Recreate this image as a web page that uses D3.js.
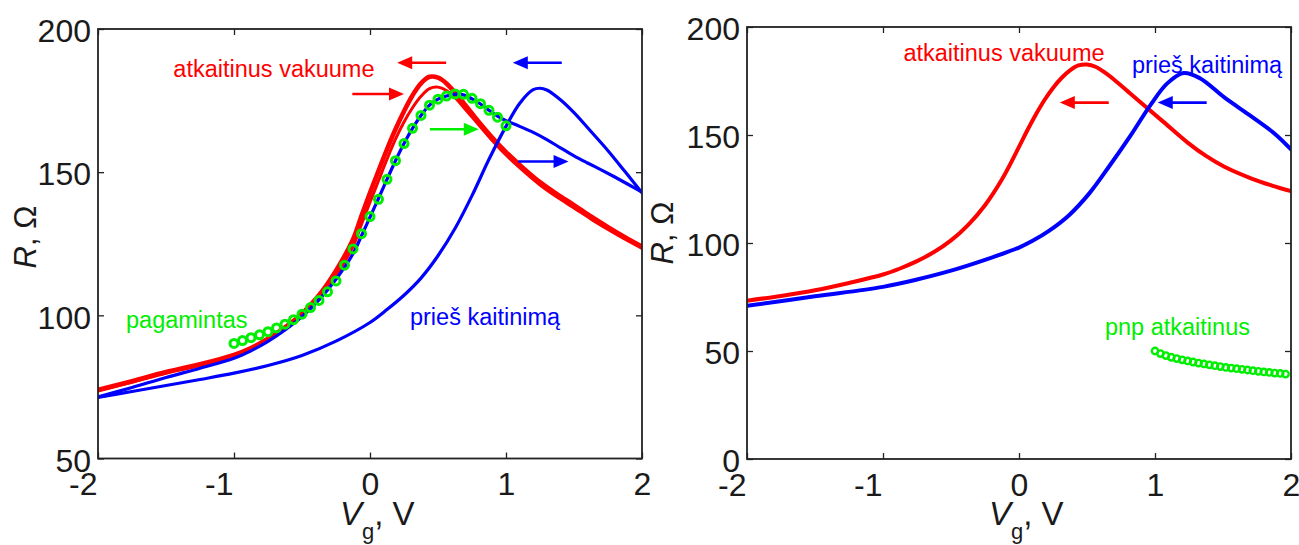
<!DOCTYPE html>
<html><head><meta charset="utf-8">
<script src="https://cdn.jsdelivr.net/npm/d3@7"></script>
<style>
html,body{margin:0;padding:0;background:#fff;}
svg{display:block;font-family:"Liberation Sans",Arial,Helvetica,sans-serif;}
</style></head><body>
<svg id="chart" width="1299" height="545"></svg>
<script>
// ---------------- DATA ----------------
const xTicks = [-2, -1, 0, 1, 2];
const leftYTicks = [50, 100, 150, 200];
const rightYTicks = [0, 50, 100, 150, 200];

// Left panel: annealed in vacuum (two sweeps)
const leftRedUp = [[-2,74],[-1.75,77],[-1.5,80.2],[-1.25,82.9],[-1,86.2],[-0.875,88.6],[-0.75,91.8],[-0.625,95.8],[-0.5,100.6],[-0.375,107],[-0.25,115.6],[-0.125,126.5],[-0.0625,134.8],[0,142.8],[0.0625,150.5],[0.125,158],[0.1875,165],[0.25,171.3],[0.3125,176.8],[0.375,181],[0.4375,183.3],[0.5,183],[0.5625,181],[0.625,177.8],[0.7,173.5],[0.8,167.5],[0.9,162],[1.0,157],[1.125,151.5],[1.25,146.5],[1.375,142.3],[1.5,138.5],[1.625,134.5],[1.75,130.8],[1.875,127.3],[2,124]];
const leftRedDown = [[-2,73.6],[-1.75,76.6],[-1.5,79.8],[-1.25,82.5],[-1,85.8],[-0.875,88.2],[-0.75,91.4],[-0.625,95.3],[-0.5,100],[-0.375,106],[-0.25,114],[-0.125,124],[-0.0625,131.8],[0,139.5],[0.0625,147],[0.125,154.5],[0.1875,161.5],[0.25,167.5],[0.3125,172.5],[0.375,176.5],[0.4375,179.2],[0.5,179.7],[0.5625,178.5],[0.625,176],[0.7,172],[0.8,166.5],[0.9,161],[1.0,156],[1.125,150.5],[1.25,145.5],[1.375,141.3],[1.5,137.5],[1.625,133.6],[1.75,130],[1.875,126.6],[2,123.4]];
// Left panel: before heating (two sweeps)
const leftBlueA = [[-2,71.3],[-1.75,73.4],[-1.5,75.5],[-1.25,77.6],[-1,79.8],[-0.75,82.5],[-0.5,86],[-0.25,91],[0,97.5],[0.125,102],[0.25,107],[0.375,113],[0.5,120.8],[0.625,130.3],[0.75,141.8],[0.875,154.5],[1.0,166],[1.1,174],[1.2,178.8],[1.25,179.3],[1.3,178.7],[1.4,175.3],[1.5,170.8],[1.625,164.2],[1.75,157.5],[1.875,150.2],[2,142.8]];
const leftBlueB = [[-2,71.5],[-1.75,74.8],[-1.5,78.3],[-1.25,81.5],[-1,85],[-0.875,87.6],[-0.75,90.9],[-0.625,94.9],[-0.5,99.6],[-0.375,105.4],[-0.25,112.6],[-0.125,121.5],[-0.0625,127.8],[0,134.3],[0.0625,140.8],[0.125,147.5],[0.1875,154],[0.25,160],[0.3125,165.3],[0.375,169.8],[0.4375,173.4],[0.5,175.5],[0.5625,176.6],[0.625,177.2],[0.6875,177],[0.75,175.6],[0.8125,173.8],[0.875,171.6],[0.9375,169.6],[1.0,168],[1.1,166],[1.2,163.9],[1.3,161.4],[1.4,158.5],[1.5,155.7],[1.6,153.2],[1.7,150.8],[1.8,148.3],[1.9,145.7],[2,143]];
// Left panel: as fabricated (circles)
const leftGreen = [[-1,90.2],[-0.9375,91.2],[-0.875,92.2],[-0.8125,93.2],[-0.75,94.3],[-0.6875,95.6],[-0.625,96.9],[-0.5625,98.5],[-0.5,100.4],[-0.4375,102.7],[-0.375,105.2],[-0.3125,108.2],[-0.25,112],[-0.1875,117.5],[-0.125,123.2],[-0.0625,128.5],[0,134.5],[0.0625,140.5],[0.125,147.5],[0.1875,154],[0.25,160],[0.3125,165.3],[0.375,169.8],[0.4375,173.4],[0.5,175.5],[0.5625,176.6],[0.625,177.3],[0.6875,177.2],[0.75,175.8],[0.8125,173.9],[0.875,171.6],[0.9375,169.2],[1,166.2]];

// Right panel
const rightRed = [[-2,73.3],[-1.75,75.5],[-1.5,78.1],[-1.25,81.5],[-1,85.4],[-0.875,88.2],[-0.75,91.6],[-0.625,95.8],[-0.5,101.2],[-0.375,108.3],[-0.25,117.5],[-0.125,129.5],[0,144.5],[0.0625,152.3],[0.125,159.6],[0.1875,166.2],[0.25,171.8],[0.3125,176.4],[0.375,179.9],[0.4375,182.2],[0.5,182.6],[0.5625,181.6],[0.625,179.2],[0.7,175.6],[0.8,170.2],[0.91,164.2],[1.06,156.2],[1.24,146.5],[1.375,140.3],[1.51,135.3],[1.72,129.6],[1.86,126.6],[2,124]];
const rightBlue = [[-2,70.9],[-1.5,75.3],[-1,79.7],[-0.75,83.1],[-0.5,87.2],[-0.25,92.2],[0,97.9],[0.1,101],[0.22,105.6],[0.37,113],[0.52,123.2],[0.67,136.1],[0.82,149.7],[0.97,164.2],[1.09,173.9],[1.21,178.7],[1.33,176.3],[1.51,167.4],[1.69,159.4],[1.88,150.6],[2,143.3]];
const rightGreen = [[1.00,50.0],[1.04,48.8],[1.08,47.9],[1.12,47.1],[1.16,46.5],[1.20,45.9],[1.24,45.4],[1.28,44.9],[1.32,44.4],[1.36,44.0],[1.40,43.6],[1.44,43.2],[1.48,42.8],[1.52,42.4],[1.56,42.1],[1.60,41.8],[1.64,41.5],[1.68,41.2],[1.72,40.9],[1.76,40.6],[1.80,40.3],[1.84,40.1],[1.88,39.8],[1.92,39.6],[1.96,39.3]];

// Annotations (data units)
const leftArrows = [
  {from:[0.56,188.2], to:[0.20,188.2], c:"red"},
  {from:[-0.13,177.3], to:[0.25,177.3], c:"red"},
  {from:[1.41,188.2], to:[1.05,188.2], c:"blue"},
  {from:[0.44,165], to:[0.80,165], c:"green"},
  {from:[1.09,153.7], to:[1.46,153.7], c:"blue"}
];
const rightArrows = [
  {from:[0.66,165], to:[0.30,165], c:"red"},
  {from:[1.38,165], to:[1.02,165], c:"blue"}
];
const leftLabels = [
  {text:"atkaitinus vakuume", at:[-1.446,183.2], c:"red"},
  {text:"pagamintas", at:[-1.794,95.5], c:"green"},
  {text:"prieš kaitinimą", at:[0.294,96.6], c:"blue"}
];
const rightLabels = [
  {text:"atkaitinus vakuume", at:[-0.85,184.3], c:"red"},
  {text:"prieš kaitinimą", at:[0.83,178.7], c:"blue"},
  {text:"pnp atkaitinus", at:[0.632,57.4], c:"green"}
];

// ---------------- DRAW ----------------
const COL = {red:"#ff0000", blue:"#0000ff", green:"#00ee00"};
const svg = d3.select("#chart");
svg.append("rect").attr("width",1299).attr("height",545).attr("fill","#fff");
const fmt = d => String(d);

function panel(opt){
  const x = d3.scaleLinear().domain([-2,2]).range([opt.x0, opt.x1]);
  const y = d3.scaleLinear().domain(opt.ydom).range([opt.y0, opt.y1]);
  const g = svg.append("g");
  const clipId = "clip"+opt.id;
  svg.append("clipPath").attr("id",clipId).append("rect")
    .attr("x",opt.x0).attr("y",opt.y1).attr("width",opt.x1-opt.x0).attr("height",opt.y0-opt.y1);
  const plot = g.append("g").attr("clip-path",`url(#${clipId})`);
  const line = d3.line().x(d=>x(d[0])).y(d=>y(d[1])).curve(d3.curveCatmullRom.alpha(0.5));
  opt.lines.forEach(l=>{
    plot.append("path").attr("d",line(l.data)).attr("fill","none")
      .attr("stroke",COL[l.c]).attr("stroke-width",l.w).attr("stroke-linejoin","round").attr("stroke-linecap","round");
  });
  plot.selectAll("circle.m").data(opt.circles).join("circle")
    .attr("cx",d=>x(d[0])).attr("cy",d=>y(d[1])).attr("r",opt.cr)
    .attr("fill","none").attr("stroke",COL.green).attr("stroke-width",opt.cw);

  // arrows
  opt.arrows.forEach(a=>{
    const x1=x(a.from[0]), x2=x(a.to[0]), yy=y(a.from[1]);
    const dir = Math.sign(x2-x1);
    const hl=15, hw=6.5;
    g.append("line").attr("x1",x1).attr("x2",x2-dir*hl*0.8).attr("y1",yy).attr("y2",yy)
      .attr("stroke",COL[a.c]).attr("stroke-width",2.6);
    g.append("path").attr("d",`M${x2},${yy} L${x2-dir*hl},${yy-hw} L${x2-dir*hl},${yy+hw} Z`)
      .attr("fill",COL[a.c]);
  });
  // labels
  opt.labels.forEach(t=>{
    g.append("text").attr("x",x(t.at[0])).attr("y",y(t.at[1])).text(t.text)
      .attr("fill",COL[t.c]).attr("font-size",23.5);
  });

  // axes with inward ticks
  const tk = 6;
  const ax = g.append("g").attr("transform",`translate(0,${opt.y0})`)
    .call(d3.axisBottom(x).tickValues(xTicks).tickSize(-tk).tickSizeOuter(0).tickFormat(fmt));
  ax.selectAll("text").attr("y",36.5).attr("dy",0).attr("font-size",32).attr("fill","#1a1a1a")
    .attr("font-family","Liberation Sans, Arial, sans-serif")
    .each(function(d){ if(d<0){ d3.select(this).attr("text-anchor","end").attr("x",-1);} });
  g.append("g").attr("transform",`translate(0,${opt.y1})`)
    .call(d3.axisTop(x).tickValues(xTicks).tickSize(-tk).tickSizeOuter(0).tickFormat(""));
  const ay = g.append("g").attr("transform",`translate(${opt.x0},0)`)
    .call(d3.axisLeft(y).tickValues(opt.yticks).tickSize(-tk).tickSizeOuter(0).tickFormat(fmt));
  ay.selectAll("text").attr("x",-7).attr("dy","0.4em").attr("font-size",32).attr("fill","#1a1a1a")
    .attr("font-family","Liberation Sans, Arial, sans-serif");
  g.append("g").attr("transform",`translate(${opt.x1},0)`)
    .call(d3.axisRight(y).tickValues(opt.yticks).tickSize(-tk).tickSizeOuter(0).tickFormat(""));
  g.selectAll(".domain").remove();
  g.selectAll(".tick line").attr("stroke","#222").attr("stroke-width",1.3);
  g.append("rect").attr("x",opt.x0).attr("y",opt.y1).attr("width",opt.x1-opt.x0).attr("height",opt.y0-opt.y1)
    .attr("fill","none").attr("stroke","#222").attr("stroke-width",1.8);

  // axis titles
  const cx = (opt.x0+opt.x1)/2;
  const xl = g.append("text").attr("x",cx-30).attr("y",525).attr("font-size",33).attr("fill","#1a1a1a");
  xl.append("tspan").attr("font-style","italic").text("V");
  xl.append("tspan").attr("font-size",22).attr("dy",14).text("g");
  xl.append("tspan").attr("dy",-14).text(", V");
  const yl = g.append("text").attr("transform",`translate(${opt.ylx},${opt.yly}) rotate(-90)`)
    .attr("text-anchor","middle").attr("font-size",31).attr("fill","#1a1a1a");
  yl.append("tspan").attr("font-style","italic").text("R");
  yl.append("tspan").text(", Ω");
}

panel({id:"L", x0:98, x1:642, y0:458.5, y1:29, ydom:[50,200], yticks:leftYTicks,
  lines:[{data:leftRedUp,c:"red",w:4.6},{data:leftRedDown,c:"red",w:3},
         {data:leftBlueA,c:"blue",w:3.2},{data:leftBlueB,c:"blue",w:3.2}],
  circles:leftGreen, cr:4, cw:3, arrows:leftArrows, labels:leftLabels, ylx:36, yly:237});

panel({id:"R", x0:747, x1:1291, y0:459, y1:27, ydom:[0,200], yticks:rightYTicks,
  lines:[{data:rightRed,c:"red",w:4},{data:rightBlue,c:"blue",w:4}],
  circles:rightGreen, cr:3.2, cw:2.4, arrows:rightArrows, labels:rightLabels, ylx:673, yly:233});
</script>
</body></html>
